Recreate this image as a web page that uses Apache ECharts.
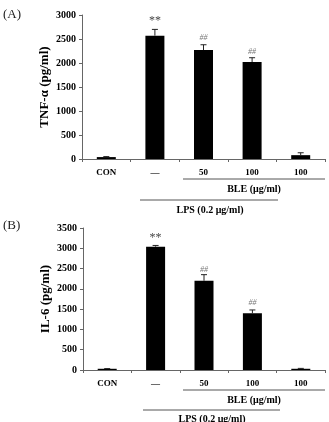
<!DOCTYPE html>
<html>
<head>
<meta charset="utf-8">
<script src="https://cdn.jsdelivr.net/npm/echarts@6/dist/echarts.min.js"></script>
<style>
  html, body { margin: 0; padding: 0; background: #fff; }
  #chart { width: 329px; height: 422px; }
</style>
</head>
<body>
<div id="chart"></div>
<script>
// 数据
var categories = ['CON', '—', '50', '100', '100'];
var tnfValues = [40, 2570, 2270, 2020, 80];
var tnfErrors = [10, 130, 110, 90, 50];
var tnfMarks = ['', '**', '##', '##', ''];
var tnfMarkAt = [0, 2870, 2520, 2240, 0];
var il6Values = [30, 3040, 2200, 1400, 30];
var il6Errors = [5, 30, 150, 80, 10];
var il6Marks = ['', '**', '##', '##', ''];
var il6MarkAt = [0, 3260, 2470, 1660, 0];

var FONT = '"Liberation Serif", "Times New Roman", serif';
var chart = echarts.init(document.getElementById('chart'));

function errorSeries(idx, vals, errs) {
  return {
    type: 'custom',
    xAxisIndex: idx, yAxisIndex: idx,
    data: vals.map(function (v, i) { return [i, v, errs[i]]; }),
    renderItem: function (params, api) {
      var i = api.value(0), v = api.value(1), e = api.value(2);
      var p0 = api.coord([i, v]);
      var p1 = api.coord([i, v + e]);
      var style = { stroke: '#222', lineWidth: 1 };
      return {
        type: 'group',
        children: [
          { type: 'line', shape: { x1: p0[0], y1: p0[1], x2: p1[0], y2: p1[1] }, style: style },
          { type: 'line', shape: { x1: p1[0] - 3, y1: p1[1], x2: p1[0] + 3, y2: p1[1] }, style: style }
        ]
      };
    },
    z: 3
  };
}

function markSeries(idx, marks, at) {
  return {
    type: 'custom',
    xAxisIndex: idx, yAxisIndex: idx,
    data: marks.map(function (m, i) { return [i, at[i], m]; }),
    renderItem: function (params, api) {
      var m = marks[params.dataIndex];
      if (!m) return null;
      var p = api.coord([api.value(0), api.value(1)]);
      var star = m === '**';
      return {
        type: 'text',
        x: p[0], y: p[1],
        style: {
          text: m,
          align: 'center', verticalAlign: 'middle',
          fontFamily: FONT,
          fontSize: star ? 12 : 8,
          fontStyle: star ? 'normal' : 'italic',
          fill: star ? '#444' : '#777'
        }
      };
    }
  };
}

function xAxis(idx) {
  return {
    type: 'category', gridIndex: idx, data: categories,
    axisLine: { lineStyle: { color: '#666', width: 1 } },
    axisTick: { show: true, alignWithLabel: false, length: 3, lineStyle: { color: '#666' } },
    axisLabel: { color: '#000', fontFamily: FONT, fontWeight: 'bold', fontSize: 9, margin: 9 }
  };
}

function yAxis(idx, max, name) {
  return {
    type: 'value', gridIndex: idx, min: 0, max: max, interval: 500,
    name: name, nameLocation: 'middle', nameGap: 31, nameMoveOverlap: false,
    nameTextStyle: { color: '#000', fontFamily: FONT, fontWeight: 'bold', fontSize: 13 },
    axisLine: { show: true, lineStyle: { color: '#666', width: 1 } },
    axisTick: { show: true, length: 3, lineStyle: { color: '#666' } },
    splitLine: { show: false },
    axisLabel: {
      color: '#000', fontFamily: FONT, fontWeight: 'bold', fontSize: 10, margin: 6,
      formatter: function (v) { return String(v); }
    }
  };
}

function barSeries(idx, vals) {
  return {
    type: 'bar', xAxisIndex: idx, yAxisIndex: idx, data: vals,
    barWidth: 19, itemStyle: { color: '#000' }, z: 2
  };
}

var txt = { fontFamily: FONT, fontWeight: 'bold', fontSize: 10, fill: '#000' };

var option = {
  animation: false,
  backgroundColor: '#fff',
  grid: [
    { left: 82, top: 15, width: 243, height: 144 },
    { left: 83, top: 228, width: 242, height: 142 }
  ],
  xAxis: [xAxis(0), xAxis(1)],
  yAxis: [yAxis(0, 3000, 'TNF-α (pg/ml)'), yAxis(1, 3500, 'IL-6 (pg/ml)')],
  series: [
    barSeries(0, tnfValues), errorSeries(0, tnfValues, tnfErrors), markSeries(0, tnfMarks, tnfMarkAt),
    barSeries(1, il6Values), errorSeries(1, il6Values, il6Errors), markSeries(1, il6Marks, il6MarkAt)
  ],
  graphic: [
    { type: 'text', left: 3, top: 8, style: { text: '(A)', fontFamily: FONT, fontSize: 13, fill: '#222' } },
    { type: 'text', left: 3, top: 219, style: { text: '(B)', fontFamily: FONT, fontSize: 13, fill: '#222' } },
    // A brackets
    { type: 'line', shape: { x1: 183, y1: 179, x2: 325, y2: 179 }, style: { stroke: '#555', lineWidth: 1 } },
    { type: 'text', x: 254, y: 189, style: Object.assign({ text: 'BLE (μg/ml)', align: 'center', verticalAlign: 'middle' }, txt) },
    { type: 'line', shape: { x1: 140, y1: 200, x2: 278, y2: 200 }, style: { stroke: '#555', lineWidth: 1 } },
    { type: 'text', x: 210, y: 210, style: Object.assign({ text: 'LPS (0.2 μg/ml)', align: 'center', verticalAlign: 'middle' }, txt) },
    // B brackets
    { type: 'line', shape: { x1: 183, y1: 390, x2: 325, y2: 390 }, style: { stroke: '#555', lineWidth: 1 } },
    { type: 'text', x: 254, y: 400, style: Object.assign({ text: 'BLE (μg/ml)', align: 'center', verticalAlign: 'middle' }, txt) },
    { type: 'line', shape: { x1: 143, y1: 410, x2: 280, y2: 410 }, style: { stroke: '#555', lineWidth: 1 } },
    { type: 'text', x: 212, y: 419, style: Object.assign({ text: 'LPS (0.2 μg/ml)', align: 'center', verticalAlign: 'middle' }, txt) }
  ]
};
chart.setOption(option);
</script>
</body>
</html>
